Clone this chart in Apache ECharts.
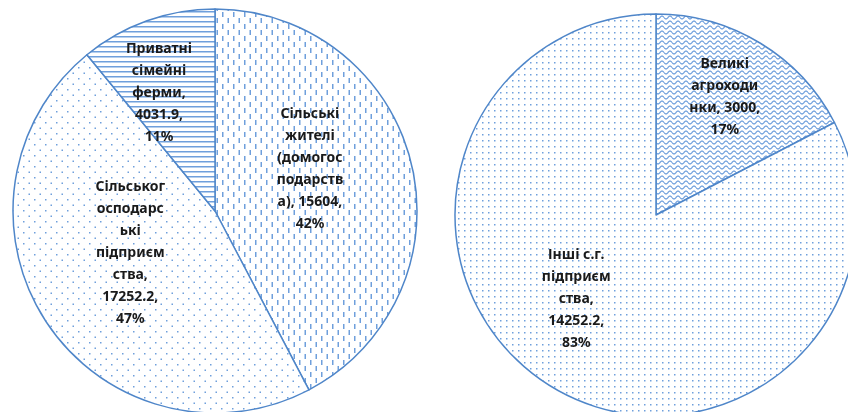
<!DOCTYPE html>
<html>
<head>
<meta charset="utf-8">
<script src="https://cdn.jsdelivr.net/npm/echarts@6/dist/echarts.min.js"></script>
<style>
  html, body { margin: 0; padding: 0; background: #ffffff; }
  #chart { width: 848px; height: 412px; }
</style>
</head>
<body>
<div id="chart"></div>
<script>
// left pie: who produces (clockwise from 12 o'clock)
const leftNames = [
  "Сільські\nжителі\n(домогос\nподарств\nа)",
  "Сільськог\nосподарс\nькі\nпідприєм\nства",
  "Приватні\nсімейні\nферми"
];
const leftValues = [15604, 17252.2, 4031.9];

// right pie
const rightNames = ["Великі\nагроходи\nнки", "Інші с.г.\nпідприєм\nства"];
const rightValues = [3000, 14252.2];

// label nudges (px) away from the default mid-radius spot
const leftLabelShift = [[-6, -17], [2, -15], [-21, -20]];
const rightLabelShift = [[15, -30], [-26, -4]];

const LINE = "#4f86c9";
const INK = "#6f9fdc";

function tile(w, h, draw) {
  const c = document.createElement("canvas");
  c.width = w;
  c.height = h;
  const ctx = c.getContext("2d");
  ctx.fillStyle = "#ffffff";
  ctx.fillRect(0, 0, w, h);
  draw(ctx);
  return { image: c, repeat: "repeat" };
}

const vDashes = tile(11, 12, (ctx) => {
  ctx.fillStyle = INK;
  ctx.fillRect(2, 0, 1.5, 5);
  ctx.fillRect(7.5, 6, 1.5, 5);
});
const sparseDots = tile(11, 11, (ctx) => {
  ctx.fillStyle = INK;
  ctx.fillRect(1, 1, 1.5, 1.5);
  ctx.fillRect(6.5, 6.5, 1.5, 1.5);
});
const hLines = tile(4, 5, (ctx) => {
  ctx.fillStyle = INK;
  ctx.fillRect(0, 1, 4, 1.5);
});
const waves = tile(8, 5, (ctx) => {
  ctx.strokeStyle = INK;
  ctx.lineWidth = 1.2;
  ctx.beginPath();
  for (let x = 0; x <= 8; x += 0.5) {
    const y = 2.5 + 1.5 * Math.sin((x / 8) * Math.PI * 2);
    if (x === 0) ctx.moveTo(x, y); else ctx.lineTo(x, y);
  }
  ctx.stroke();
});
const denseDots = tile(6, 6, (ctx) => {
  ctx.fillStyle = INK;
  ctx.fillRect(2, 2, 1.5, 1.5);
});

function labelText(p) {
  const lines = p.name.split("\n");
  const last = lines[lines.length - 1] + ", " + p.value + ",";
  if (last.length <= 10) {
    lines[lines.length - 1] = last;
  } else {
    lines[lines.length - 1] += ",";
    lines.push(p.value + ",");
  }
  lines.push(Math.round(p.percent) + "%");
  return lines.join("\n");
}

function buildPie(center, radius, names, values, fills, shift) {
  return {
    type: "pie",
    center: center,
    radius: radius,
    startAngle: 90,
    clockwise: true,
    silent: true,
    animation: false,
    avoidLabelOverlap: false,
    itemStyle: { borderColor: LINE, borderWidth: 1.5 },
    label: {
      show: true,
      position: "inside",
      formatter: labelText,
      color: "#1a1a1a",
      fontFamily: "Noto Sans",
      fontWeight: "bold",
      fontSize: 14,
      lineHeight: 22,
      align: "center"
    },
    labelLine: { show: false },
    labelLayout: (params) => ({ dx: shift[params.dataIndex][0], dy: shift[params.dataIndex][1] }),
    emphasis: { disabled: true },
    data: names.map((n, i) => ({
      name: n,
      value: values[i],
      itemStyle: { color: fills[i] }
    }))
  };
}

const chart = echarts.init(document.getElementById("chart"), null, { renderer: "canvas" });
chart.setOption({
  backgroundColor: "#ffffff",
  animation: false,
  series: [
    buildPie([215, 211], 202, leftNames, leftValues, [vDashes, sparseDots, hLines], leftLabelShift),
    buildPie([656, 215], 201, rightNames, rightValues, [waves, denseDots], rightLabelShift)
  ]
});
</script>
</body>
</html>
